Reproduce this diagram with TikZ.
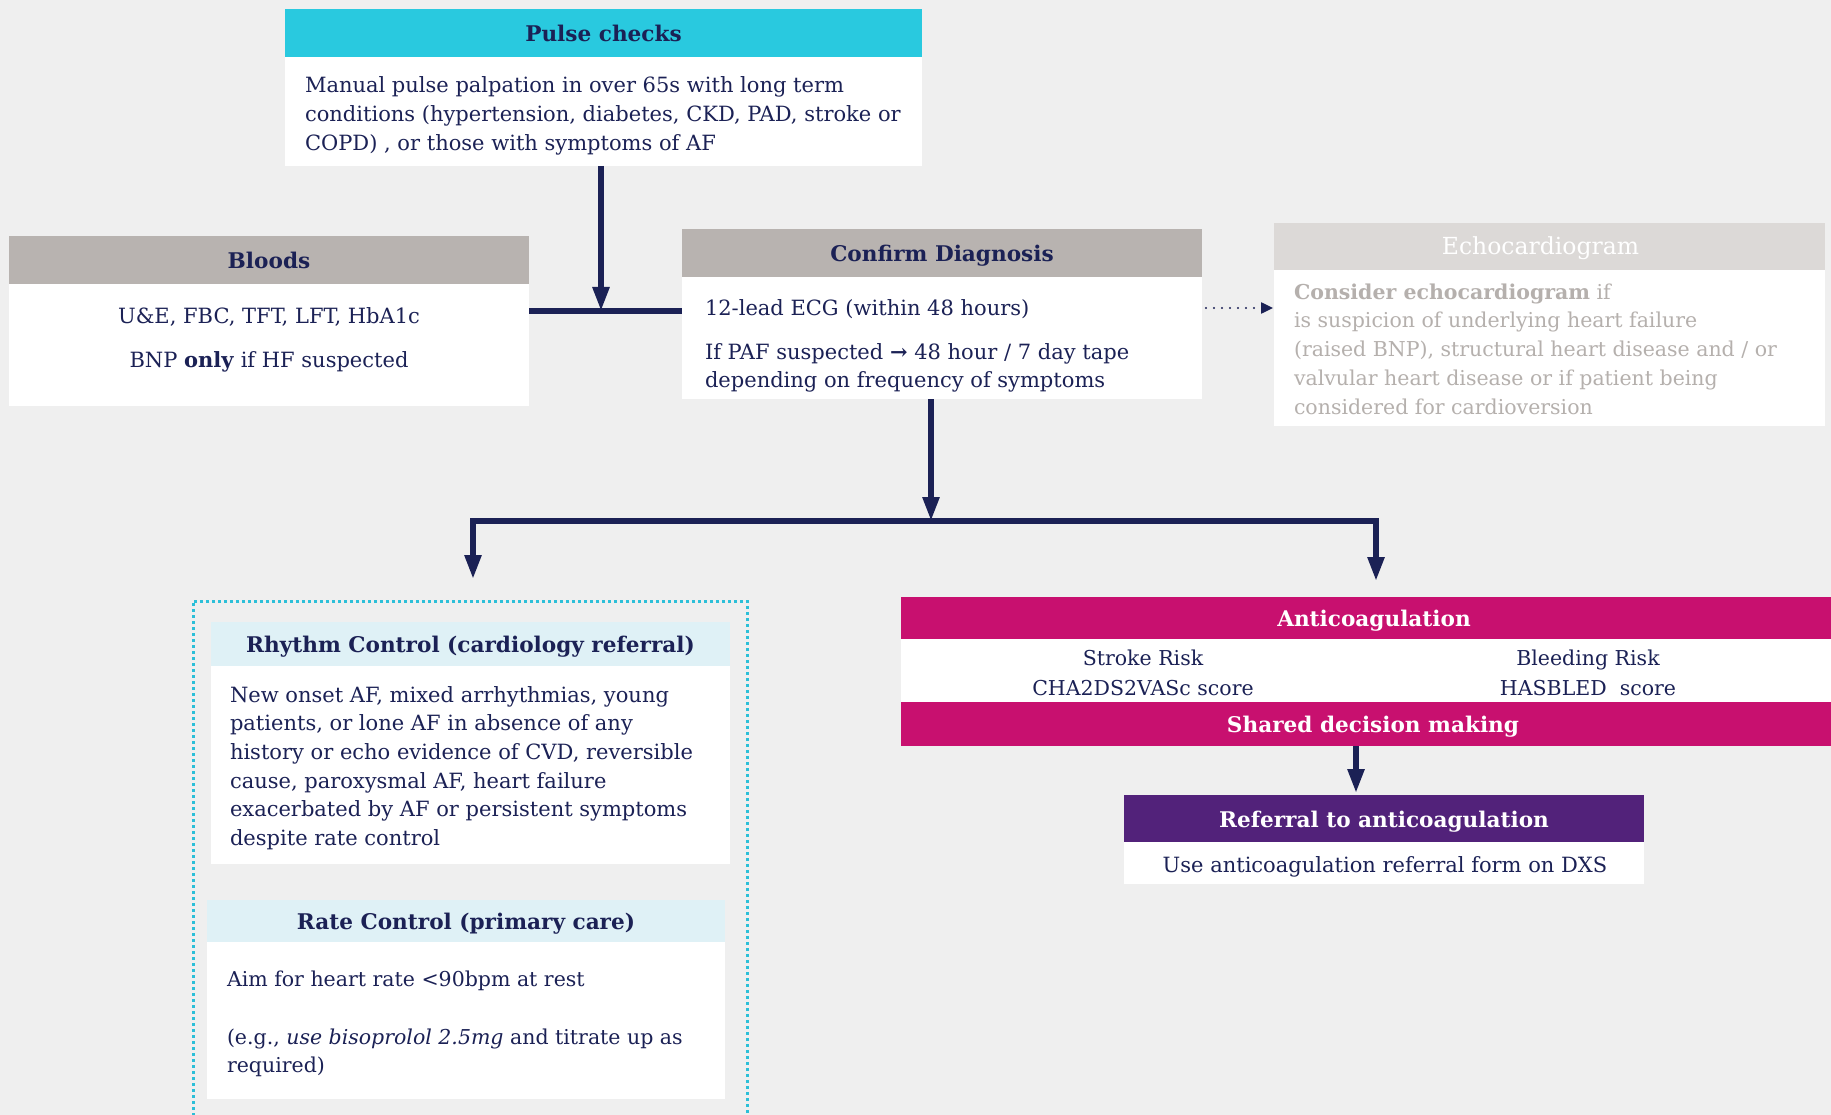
\documentclass[tikz,border=0pt]{standalone}
\usepackage{fontspec}
\setmainfont{DejaVu Serif}
\usetikzlibrary{arrows.meta,calc}
\definecolor{navy}{HTML}{1B2155}
\definecolor{bgc}{HTML}{EFEFEF}
\definecolor{cyanh}{HTML}{29C9DF}
\definecolor{greyh}{HTML}{B8B3B0}
\definecolor{echoh}{HTML}{DCD9D7}
\definecolor{echot}{HTML}{B5B0AD}
\definecolor{magh}{HTML}{C8106F}
\definecolor{purph}{HTML}{52227A}
\definecolor{lblue}{HTML}{DFF1F6}
\definecolor{dotc}{HTML}{2CBFD8}
\newcommand\txtsz{\fontsize{21}{28.7}\selectfont}
\newcommand\hdrsz{\fontsize{21.6}{25}\selectfont}
\begin{document}
\begin{tikzpicture}[x=1pt,y=-1pt,
  rect/.style={anchor=north west,inner sep=0pt,outer sep=0pt,draw=none},
  hdr/.style={rect,font=\hdrsz\bfseries,text=navy,text height=17pt,text depth=0pt},
  whdr/.style={hdr,text=white},
  bodyr/.style={rect,fill=white},
  txt/.style={inner sep=0pt,outer sep=0pt,text=navy,font=\txtsz,align=left},
  ctxt/.style={txt,align=center},
  ln/.style={draw=navy,line width=5.5pt},
  arr/.style={ln,-{Triangle[length=24pt,width=16pt]}},
  arrtwo/.style={ln,line join=miter,{Triangle[length=24pt,width=16pt]}-{Triangle[length=24pt,width=16pt]}},
  dotarr/.style={draw=navy,line width=2.4pt,line cap=round,dash pattern=on 0pt off 8pt,-{Triangle[length=12pt,width=11pt,line cap=butt]}}
]
\useasboundingbox (0,0) rectangle (1831,1115);
\fill[bgc] (0,0) rectangle (1831,1115);

% Pulse checks
\node[hdr,fill=cyanh,minimum width=637pt,minimum height=48pt] (pulseh) at (285,9) {Pulse checks};
\node[bodyr,minimum width=637pt,minimum height=109pt] (pulseb) at (285,57) {};
\node[txt,anchor=west] (pulset) at (305,116) {Manual pulse palpation in over 65s with long term\\conditions (hypertension, diabetes, CKD, PAD, stroke or\\COPD) , or those with symptoms of AF};

% Bloods
\node[hdr,fill=greyh,minimum width=520pt,minimum height=48pt] (bloodsh) at (9,236) {Bloods};
\node[bodyr,minimum width=520pt,minimum height=122pt] (bloodsb) at (9,284) {};
\node[ctxt] (bloodst) at (269,340) {U\&E, FBC, TFT, LFT, HbA1c\\[16pt]BNP \textbf{only} if HF suspected};

% Confirm diagnosis
\node[hdr,fill=greyh,minimum width=520pt,minimum height=48pt] (confh) at (682,229) {Confirm Diagnosis};
\node[bodyr,minimum width=520pt,minimum height=122pt] (confb) at (682,277) {};
\node[txt,anchor=west] (conft) at (705,346) {12-lead ECG (within 48 hours)\\[15pt]If PAF suspected \textbf{→} 48 hour / 7 day tape\\depending on frequency of symptoms};

% Echocardiogram
\node[rect,fill=echoh,text=white,font=\fontsize{23.5}{26}\selectfont,text height=17pt,text depth=0pt,minimum width=551pt,minimum height=47pt] (echoh) at (1274,223) {\hspace*{-18pt}Echocardiogram};
\node[bodyr,minimum width=551pt,minimum height=156pt] (echob) at (1274,270) {};
\node[txt,text=echot,font=\fontsize{20.5}{28.7}\selectfont,anchor=west] (echot) at (1294,349) {\textbf{Consider echocardiogram} if\\is suspicion of underlying heart failure\\(raised BNP), structural heart disease and / or\\valvular heart disease or if patient being\\considered for cardioversion};

% Dotted group
\node[rect,draw=dotc,line width=3pt,dash pattern=on 3pt off 3pt,minimum width=554pt,minimum height=540pt] (group) at (193,601) {};

% Rhythm control
\node[hdr,fill=lblue,minimum width=519pt,minimum height=44pt] (rhyh) at (211,622) {Rhythm Control (cardiology referral)};
\node[bodyr,minimum width=519pt,minimum height=198pt] (rhyb) at (211,666) {};
\node[txt,anchor=west] (rhyt) at (230,768) {New onset AF, mixed arrhythmias, young\\patients, or lone AF in absence of any\\history or echo evidence of CVD, reversible\\cause, paroxysmal AF, heart failure\\exacerbated by AF or persistent symptoms\\despite rate control};

% Rate control
\node[hdr,fill=lblue,minimum width=518pt,minimum height=42pt] (rateh) at (207,900) {Rate Control (primary care)};
\node[bodyr,minimum width=518pt,minimum height=157pt] (rateb) at (207,942) {};
\node[txt,font=\fontsize{20.5}{28.7}\selectfont,anchor=west] (ratet) at (227,1024) {Aim for heart rate <90bpm at rest\\[28.7pt](e.g., \textit{use bisoprolol 2.5mg} and titrate up as\\required)};

% Anticoagulation
\node[whdr,fill=magh,minimum width=930pt,minimum height=42pt] (anth) at (901,597) {\hspace*{16pt}Anticoagulation};
\node[bodyr,minimum width=930pt,minimum height=63pt] (antb) at (901,639) {};
\node[ctxt,font=\fontsize{20.5}{30}\selectfont] (strk) at (1143,673) {Stroke Risk\\CHA2DS2VASc score};
\node[ctxt,font=\fontsize{20.5}{30}\selectfont] (bleed) at (1588,673) {Bleeding Risk\\HASBLED\ \ score};
\node[whdr,fill=magh,minimum width=930pt,minimum height=44pt] (shared) at (901,702) {\hspace*{14pt}Shared decision making};

% Referral
\node[whdr,fill=purph,minimum width=520pt,minimum height=47pt] (refh) at (1124,795) {Referral to anticoagulation};
\node[bodyr,minimum width=520pt,minimum height=42pt] (refb) at (1124,842) {};
\node[ctxt] (reft) at (1385,867) {Use anticoagulation referral form on DXS};

% Connectors
\coordinate (j1) at (601,311);
\coordinate (eA) at (1273,308);
\coordinate (j2) at (931,521);
\coordinate (bl) at (473,521);
\coordinate (br) at (1376,521);
\coordinate (tl) at (473,579);
\coordinate (tr) at (1376,581);
\coordinate (r1) at (1356,793);

\draw[ln] (bloodsb.east |- j1) -- (confb.west |- j1);
\draw[arr] (pulseb.south -| j1) -- (j1);
\draw[dotarr] ($(confb.east |- eA)+(4,0)$) -- (eA);
\draw[arrtwo] (tl) -- (bl) -- (br) -- (tr);
\draw[arr] (confb.south -| j2) -- (j2);
\draw[arr] (shared.south -| r1) -- (r1);
\end{tikzpicture}
\end{document}
